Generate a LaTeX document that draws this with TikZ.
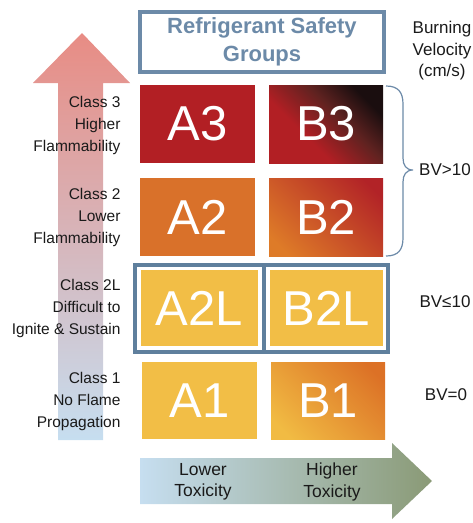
\documentclass[tikz,border=0pt]{standalone}
\usepackage{fontspec}
\setmainfont{Liberation Sans}
\usetikzlibrary{shadings}
\definecolor{cred}{HTML}{B21F24}
\definecolor{cbrown}{HTML}{5E2220}
\definecolor{cdark}{HTML}{1A0E0F}
\definecolor{corange}{HTML}{D9712A}
\definecolor{corangel}{HTML}{DE7B28}
\definecolor{cred2}{HTML}{B22327}
\definecolor{cyellow}{HTML}{F2BE46}
\definecolor{cyellowb}{HTML}{F1BB43}
\definecolor{corange1}{HTML}{DC7126}
\definecolor{cframe}{HTML}{5F7F9D}
\definecolor{ctitle}{HTML}{6C8AA8}
\definecolor{csalmon}{HTML}{E88C84}
\definecolor{cblue}{HTML}{C6DEF0}
\definecolor{cgreen}{HTML}{8A9A76}
\definecolor{ctext}{HTML}{1A1A1A}
\pgfdeclarehorizontalshading{bthree}{100bp}{color(0bp)=(cred); color(38bp)=(cred); color(58bp)=(cbrown); color(74bp)=(cdark); color(100bp)=(cdark)}
\pgfdeclarehorizontalshading{btwo}{100bp}{color(0bp)=(corangel); color(22bp)=(corangel); color(78bp)=(cred2); color(100bp)=(cred2)}
\pgfdeclarehorizontalshading{bone}{100bp}{color(0bp)=(cyellowb); color(22bp)=(cyellowb); color(78bp)=(corange1); color(100bp)=(corange1)}
\begin{document}
\begin{tikzpicture}[x=1pt,y=-1pt,
  cell/.style={minimum height=78pt, inner sep=0pt, text=white,
    font=\fontsize{49}{49}\selectfont},
  sidelbl/.style={anchor=east, align=right, text=ctext,
    font=\fontsize{15.5}{22}\selectfont},
  bvlbl/.style={align=center, text=ctext, font=\fontsize{17}{21.5}\selectfont},
  toxlbl/.style={align=center, text=ctext, font=\fontsize{17.5}{21.5}\selectfont}]
\useasboundingbox (0,0) rectangle (473,523);
\clip (0,0) rectangle (473,523);
% flammability arrow
\shade[top color=csalmon, bottom color=cblue]
  (58,440) -- (58,83) -- (33,83) -- (82,33) -- (130,83) -- (103,83) -- (103,440) -- cycle;
% toxicity arrow
\shade[left color=cblue, right color=cgreen]
  (140,458) -- (392,458) -- (392,443) -- (432,481) -- (392,519) -- (392,504) -- (140,504) -- cycle;
% title
\node[draw=ctitle, line width=4pt, minimum width=244pt, minimum height=60pt,
  align=center, text=ctitle, font=\bfseries\fontsize{22}{28}\selectfont]
  (title) at (262,42) {Refrigerant Safety\\Groups};
% class 3
\node[cell, fill=cred, minimum width=115pt] (A3) at (197.5,124) {A3};
\node[cell, minimum width=114pt, shading=bthree, shading angle=45] (B3) at (326,124) {B3};
% class 2
\node[cell, fill=corange, minimum width=115pt] (A2) at (197.5,217) {A2};
\node[cell, minimum width=114pt, shading=btwo, shading angle=45] (B2) at (326,217) {B2};
% class 2L
\draw[cframe, line width=4pt] (135,265) rectangle (388,352);
\node[cell, fill=cyellow, draw=white, line width=1.5pt, minimum width=118pt, minimum height=77pt]
  (A2L) at (199.5,308) {A2L};
\node[cell, fill=cyellow, draw=white, line width=1.5pt, minimum width=115pt, minimum height=77pt]
  (B2L) at (326.5,308) {B2L};
\draw[cframe, line width=4pt] (263.5,265) -- (263.5,352);
% class 1
\node[cell, fill=cyellow, minimum width=115pt, minimum height=77pt] (A1) at (199.5,400.5) {A1};
\node[cell, minimum width=114pt, minimum height=77pt, shading=bone, shading angle=45]
  (B1) at (328,400.5) {B1};
% side labels
\node[sidelbl] (l3) at (124,125) {Class 3\\Higher\\Flammability};
\node[sidelbl] (l2) at (124,217) {Class 2\\Lower\\Flammability};
\node[sidelbl] (l2L) at (124,308) {Class 2L\\Difficult to\\Ignite \& Sustain};
\node[sidelbl] (l1) at (124,401) {Class 1\\No Flame\\Propagation};
% toxicity labels
\node[toxlbl] (lo) at (203,482) {Lower\\Toxicity};
\node[toxlbl] (hi) at (332,482) {Higher\\Toxicity};
% right labels
\node[bvlbl] (bv) at (442,51) {Burning\\Velocity\\(cm/s)};
\node[bvlbl] (bv3) at (445,170) {BV>10};
\node[bvlbl] (bv2) at (445,302) {BV≤10};
\node[bvlbl] (bv1) at (446,395) {BV=0};
% brace
\draw[ctitle, line width=1.2pt]
  (386,86) .. controls (398,86) and (403,92) .. (403,104) -- (403,158)
  .. controls (403,165) and (406,170) .. (413,170)
  .. controls (406,170) and (403,175) .. (403,182) -- (403,238)
  .. controls (403,250) and (398,256) .. (386,256);
\end{tikzpicture}
\end{document}
